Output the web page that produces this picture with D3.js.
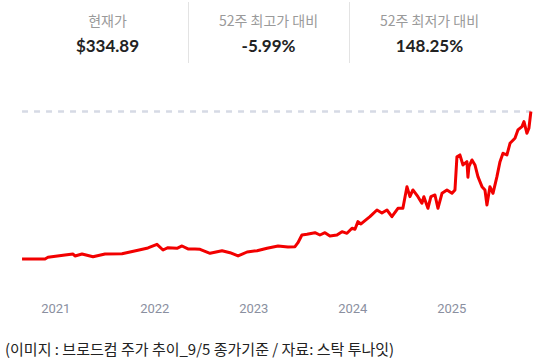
<!DOCTYPE html>
<html>
<head>
<meta charset="utf-8">
<script src="https://cdn.jsdelivr.net/npm/d3@7"></script>
<style>
  body { margin: 0; background: #fff; }
  svg { display: block; }
</style>
</head>
<body>
<div id="chart"></div>
<script>
// 상단 요약 지표
const statLabels = ["현재가", "52주 최고가 대비", "52주 최저가 대비"];
const statValues = ["$334.89", "-5.99%", "148.25%"];

// x축 연도 눈금
const yearTicks = [2021, 2022, 2023, 2024, 2025];

// 주가 (연도 소수, 가격) - 그림에서 읽은 값
const years = [2020.664, 2020.896, 2020.926, 2021.098, 2021.179, 2021.199, 2021.270, 2021.381, 2021.502, 2021.674,
  2021.835, 2021.936, 2022.027, 2022.088, 2022.138, 2022.229, 2022.280, 2022.340, 2022.411, 2022.462,
  2022.563, 2022.684, 2022.765, 2022.846, 2022.937, 2023.038, 2023.139, 2023.250, 2023.350, 2023.421,
  2023.451, 2023.491, 2023.542, 2023.623, 2023.673, 2023.724, 2023.774, 2023.845, 2023.896, 2023.946,
  2023.997, 2024.027, 2024.057, 2024.088, 2024.128, 2024.178, 2024.249, 2024.299, 2024.350, 2024.400,
  2024.461, 2024.511, 2024.552, 2024.582, 2024.612, 2024.663, 2024.703, 2024.723, 2024.764, 2024.794,
  2024.835, 2024.865, 2024.906, 2024.956, 2025.007, 2025.037, 2025.057, 2025.087, 2025.118, 2025.158,
  2025.168, 2025.178, 2025.209, 2025.239, 2025.269, 2025.310, 2025.340, 2025.360, 2025.390, 2025.421,
  2025.461, 2025.492, 2025.522, 2025.562, 2025.593, 2025.643, 2025.673, 2025.714, 2025.734, 2025.764,
  2025.784, 2025.804];
const prices = [38.2, 38.2, 41.6, 46.3, 48.3, 44.3, 48.3, 42.9, 48.3, 48.9,
  55.7, 60.4, 67.8, 56.3, 61.0, 59.8, 64.4, 58.4, 58.4, 57.7,
  49.7, 54.9, 50.9, 44.3, 52.3, 54.9, 59.8, 64.4, 62.5, 63.0,
  71.0, 86.5, 87.9, 91.1, 86.5, 91.1, 84.5, 86.5, 93.2, 89.9,
  100.0, 98.0, 113.3, 108.7, 115.3, 123.3, 136.8, 130.8, 136.8, 123.3,
  140.2, 140.2, 183.7, 163.6, 177.1, 163.6, 150.3, 163.6, 140.2, 163.6,
  167.0, 140.2, 170.4, 177.1, 170.4, 177.1, 244.0, 247.5, 227.4, 234.0,
  202.6, 224.0, 237.4, 227.4, 203.8, 183.7, 177.1, 146.9, 183.7, 170.4,
  203.8, 234.0, 250.9, 247.5, 271.0, 281.1, 297.8, 304.4, 314.5, 291.1,
  301.2, 334.89];

const caption = "(이미지 : 브로드컴 주가 추이_9/5 종가기준 / 자료: 스탁 투나잇)";

const width = 535;
const height = 364;

const svg = d3.select("#chart")
  .append("svg")
  .attr("width", width)
  .attr("height", height);

// 상단 3칸
const colX = [107.5, 268.5, 429.5];
statLabels.forEach((label, i) => {
  svg.append("text")
    .attr("x", colX[i])
    .attr("y", 26)
    .attr("text-anchor", "middle")
    .attr("font-family", "'Noto Sans CJK KR', Lato, sans-serif")
    .attr("font-size", 14)
    .attr("fill", "#9a9a9a")
    .text(label);
  svg.append("text")
    .attr("x", colX[i])
    .attr("y", 52)
    .attr("text-anchor", "middle")
    .attr("font-family", "Lato, 'Noto Sans', sans-serif")
    .attr("font-weight", "bold")
    .attr("font-size", 17)
    .attr("fill", "#222")
    .text(statValues[i]);
});
[188.5, 349.5].forEach(x => {
  svg.append("line")
    .attr("x1", x).attr("x2", x)
    .attr("y1", 2).attr("y2", 63)
    .attr("stroke", "#e3e3e3")
    .attr("stroke-width", 1);
});

// 스케일
const xScale = d3.scaleLinear()
  .domain([2021, 2025])
  .range([55.3, 451.3]);

const yScale = d3.scaleLinear()
  .domain([0, d3.max(prices)])
  .range([278, 111.5]);

const data = years.map((y, i) => [y, prices[i]]);

// 최고가 점선
svg.append("line")
  .attr("x1", xScale(d3.min(years)))
  .attr("x2", xScale(d3.max(years)))
  .attr("y1", yScale(d3.max(prices)))
  .attr("y2", yScale(d3.max(prices)))
  .attr("stroke", "#d6dae5")
  .attr("stroke-width", 2.5)
  .attr("stroke-dasharray", "6,6");

// 주가 선
const line = d3.line()
  .x(d => xScale(d[0]))
  .y(d => yScale(d[1]));

svg.append("path")
  .datum(data)
  .attr("fill", "none")
  .attr("stroke", "#f20000")
  .attr("stroke-width", 3)
  .attr("stroke-linejoin", "round")
  .attr("d", line);

// x축 (연도)
const xAxis = d3.axisBottom(xScale)
  .tickValues(yearTicks)
  .tickFormat(d3.format("d"))
  .tickSize(0);

svg.append("g")
  .attr("transform", "translate(0, 301)")
  .call(xAxis)
  .call(g => g.select(".domain").remove())
  .selectAll("text")
  .attr("font-family", "Roboto, 'Noto Sans', sans-serif")
  .attr("font-size", 13)
  .attr("fill", "#8a8fa0");

// 하단 캡션
svg.append("text")
  .attr("x", 5)
  .attr("y", 355)
  .attr("font-family", "'Noto Sans CJK KR', sans-serif")
  .attr("font-size", 15)
  .attr("fill", "#222")
  .text(caption);
</script>
</body>
</html>
